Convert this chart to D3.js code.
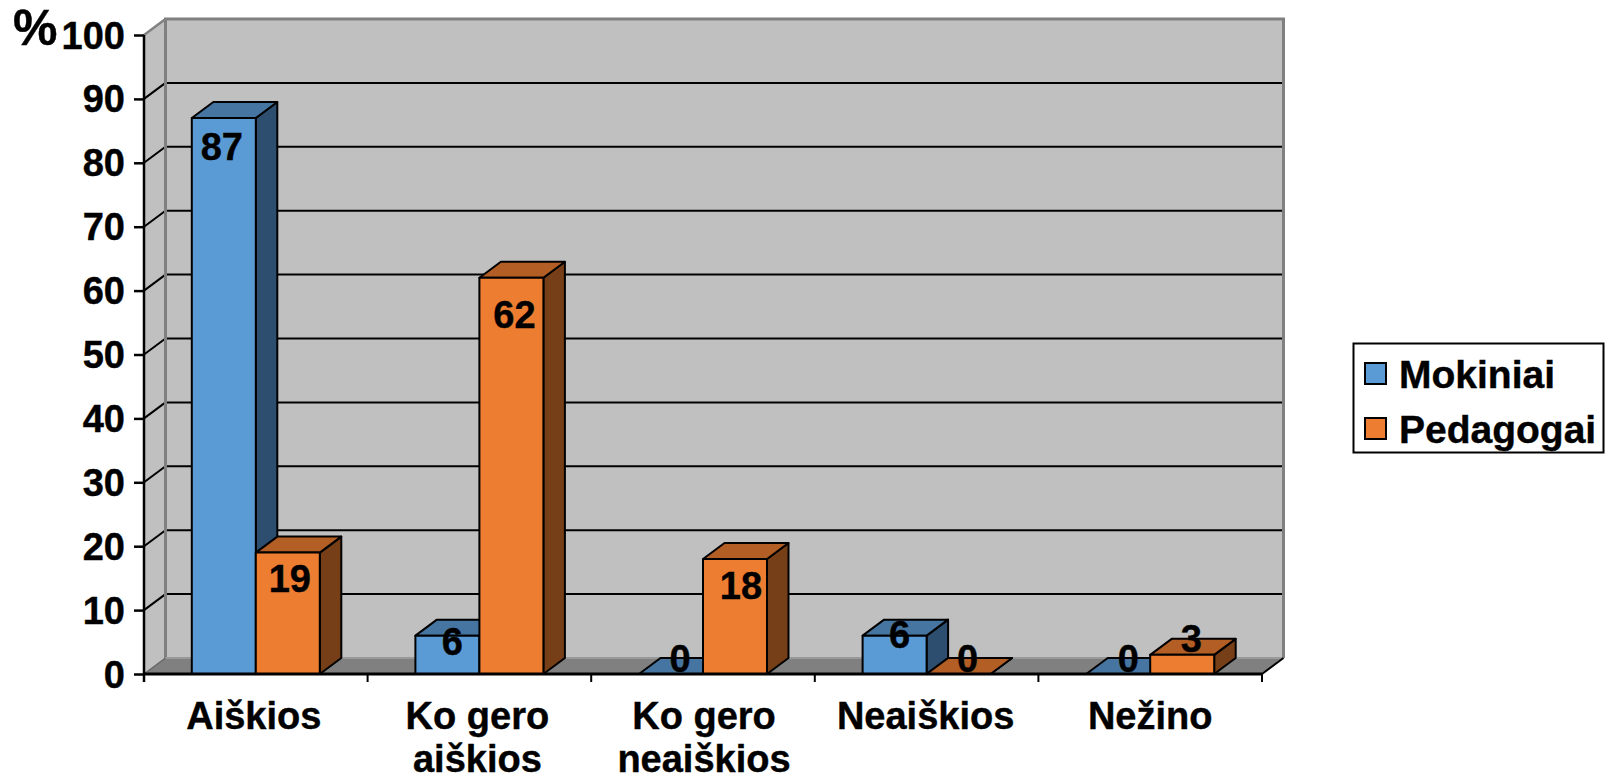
<!DOCTYPE html>
<html>
<head>
<meta charset="utf-8">
<script src="https://cdn.jsdelivr.net/npm/d3@7/dist/d3.min.js"></script>
<style>
html,body{margin:0;padding:0;background:#fff;overflow:hidden}
text{font-family:"Liberation Sans",Arial,sans-serif;font-weight:bold;fill:#000;stroke:#000;stroke-width:0.4px}
</style>
</head>
<body>
<svg id="c" width="1606" height="781"></svg>
<script>
const categories = ["Aiškios", "Ko gero aiškios", "Ko gero neaiškios", "Neaiškios", "Nežino"];
const categoryLines = [["Aiškios"], ["Ko gero", "aiškios"], ["Ko gero", "neaiškios"], ["Neaiškios"], ["Nežino"]];
const seriesNames = ["Mokiniai", "Pedagogai"];
const mokiniai = [87, 6, 0, 6, 0];
const pedagogai = [19, 62, 18, 0, 3];
const yTicks = [0, 10, 20, 30, 40, 50, 60, 70, 80, 90, 100];
const unitLabel = "%";

// layout
const x0 = 144, x1 = 1262, yBase = 674, yTop = 35, dX = 21.5, dY = -16;
const fs = 38;
const faces = [
  {front: "#5B9BD5", top: "#4575A0", side: "#2E4E6F"},
  {front: "#ED7D31", top: "#B25E25", side: "#773F18"}
];
// label nudges relative to bar centre / bar top [dx, dy to baseline]
const labelNudge = [
  [[-2, 42], [2, 39]],
  [[5, 19], [3, 50]],
  [[9, -2], [6, 40]],
  [[5, 12], [9, -2]],
  [[10, -2], [9, -3]]
];
const categoryNudge = [-2, -2, 1, -1, 0];

const svg = d3.select("#c");
const y = d3.scaleLinear().domain([0, 100]).range([yBase, yTop]);
const xOuter = d3.scaleBand().domain(categories).range([x0, x1]);
const xInner = d3.scaleBand().domain(seriesNames).range([0, xOuter.bandwidth()]).paddingInner(0).paddingOuter(0.747);
const path = p => "M" + p.map(q => q.join(",")).join("L") + "Z";

// walls
svg.append("path").attr("d", path([[x0, yBase], [x0 + dX, yBase + dY], [x0 + dX, yTop + dY], [x0, yTop]])).attr("fill", "#C0C0C0");
svg.append("rect").attr("x", x0 + dX).attr("y", yTop + dY).attr("width", x1 - x0).attr("height", yBase - yTop).attr("fill", "#C0C0C0");

// gridlines
const gridVals = yTicks.filter(v => v > 0 && v < 100);
svg.append("g").selectAll("line").data(gridVals).join("line")
  .attr("x1", x0 + dX).attr("x2", x1 + dX).attr("y1", d => y(d) + dY).attr("y2", d => y(d) + dY)
  .attr("stroke", "#000").attr("stroke-width", 2);
svg.append("g").selectAll("line").data(gridVals).join("line")
  .attr("x1", x0).attr("x2", x0 + dX).attr("y1", d => y(d)).attr("y2", d => y(d) + dY)
  .attr("stroke", "#000").attr("stroke-width", 2);

// floor
svg.append("path").attr("d", path([[x0, yBase], [x0 + dX, yBase + dY], [x1 + dX, yBase + dY], [x1, yBase]])).attr("fill", "#808080");

// wall borders
svg.append("path")
  .attr("d", `M${x0 + dX},${yBase + dY}V${yTop + dY}H${x1 + dX}V${yBase + dY}`)
  .attr("fill", "none").attr("stroke", "#808080").attr("stroke-width", 3);
svg.append("line").attr("x1", x0).attr("y1", yTop).attr("x2", x0 + dX).attr("y2", yTop + dY).attr("stroke", "#808080").attr("stroke-width", 2.5);
svg.append("line").attr("x1", x0).attr("y1", yBase).attr("x2", x0 + dX).attr("y2", yBase + dY).attr("stroke", "#666").attr("stroke-width", 1.5);
svg.append("line").attr("x1", x0 + dX).attr("y1", yBase + dY).attr("x2", x1 + dX).attr("y2", yBase + dY).attr("stroke", "#999").attr("stroke-width", 2);

// bars
const rows = [];
categories.forEach((c, i) => {
  seriesNames.forEach((s, k) => {
    rows.push({c, s, k, i, v: (k === 0 ? mokiniai : pedagogai)[i]});
  });
});
const bars = svg.append("g").selectAll("g").data(rows).join("g");
const bx = d => xOuter(d.c) + xInner(d.s);
const bw = xInner.bandwidth();
bars.append("path").attr("fill", d => faces[d.k].side).attr("d", d => path([
  [bx(d) + bw, y(d.v)], [bx(d) + bw + dX, y(d.v) + dY], [bx(d) + bw + dX, yBase + dY], [bx(d) + bw, yBase]
]));
bars.append("path").attr("fill", d => faces[d.k].top).attr("d", d => path([
  [bx(d), y(d.v)], [bx(d) + dX, y(d.v) + dY], [bx(d) + bw + dX, y(d.v) + dY], [bx(d) + bw, y(d.v)]
]));
bars.append("rect").attr("x", bx).attr("y", d => y(d.v)).attr("width", bw).attr("height", d => yBase - y(d.v)).attr("fill", d => faces[d.k].front);
bars.selectAll("path,rect").attr("stroke", "#000").attr("stroke-width", 2).attr("stroke-linejoin", "round");

// axes
const axisY = d3.axisLeft(y).tickValues(yTicks).tickSize(10).tickPadding(9).tickFormat(d3.format("d"));
const gy = svg.append("g").attr("transform", `translate(${x0},0)`).call(axisY);
gy.select(".domain").attr("stroke", "#000").attr("stroke-width", 2.5).attr("d", `M0,${yTop}V${yBase + 8}`);
gy.selectAll(".tick line").attr("stroke", "#000").attr("stroke-width", 2.5);
gy.selectAll(".tick text").attr("font-size", fs).attr("dy", 13).style("font-family", '"Liberation Sans",Arial,sans-serif').style("font-weight", "bold").attr("fill", "#000");

const axisX = d3.axisBottom(xOuter).tickSize(0).tickFormat("");
const gx = svg.append("g").attr("transform", `translate(0,${yBase})`).call(axisX);
gx.select(".domain").attr("stroke", "#000").attr("stroke-width", 3).attr("d", `M${x0},0H${x1}`);
// tick marks between categories
gx.selectAll("line.sep").data(categories.map(c => xOuter(c) + xOuter.bandwidth()).concat([x0])).join("line")
  .attr("class", "sep").attr("x1", d => d).attr("x2", d => d).attr("y1", 0).attr("y2", 8)
  .attr("stroke", "#000").attr("stroke-width", 2);
svg.append("line").attr("x1", x1).attr("y1", yBase).attr("x2", x1 + dX).attr("y2", yBase + dY).attr("stroke", "#000").attr("stroke-width", 2);

// category labels
const catText = svg.append("g").selectAll("text").data(categories).join("text")
  .attr("text-anchor", "middle").attr("font-size", fs)
  .attr("transform", (d, i) => `translate(${xOuter(d) + xOuter.bandwidth() / 2 + categoryNudge[i]},729)`);
catText.selectAll("tspan").data((d, i) => categoryLines[i]).join("tspan")
  .attr("x", 0).attr("dy", (d, i) => i ? 43 : 0).text(d => d);

// data labels
svg.append("g").selectAll("text").data(rows).join("text")
  .attr("text-anchor", "middle").attr("font-size", fs)
  .attr("x", d => bx(d) + bw / 2 + labelNudge[d.i][d.k][0])
  .attr("y", d => y(d.v) + labelNudge[d.i][d.k][1])
  .text(d => d.v);

// unit
svg.append("text").attr("x", 13).attr("y", 45).attr("font-size", 50).text(unitLabel);

// legend
const lg = svg.append("g");
lg.append("rect").attr("x", 1353.5).attr("y", 343.5).attr("width", 250).attr("height", 109).attr("fill", "#fff").attr("stroke", "#000").attr("stroke-width", 2);
const li = lg.selectAll("g").data(seriesNames).join("g").attr("transform", (d, i) => `translate(1365,${363 + i * 55})`);
li.append("rect").attr("width", 21).attr("height", 21).attr("fill", (d, i) => faces[i].front).attr("stroke", "#000").attr("stroke-width", 2);
li.append("text").attr("x", 34).attr("y", 25).attr("font-size", fs + 1).text(d => d);
</script>
</body>
</html>
